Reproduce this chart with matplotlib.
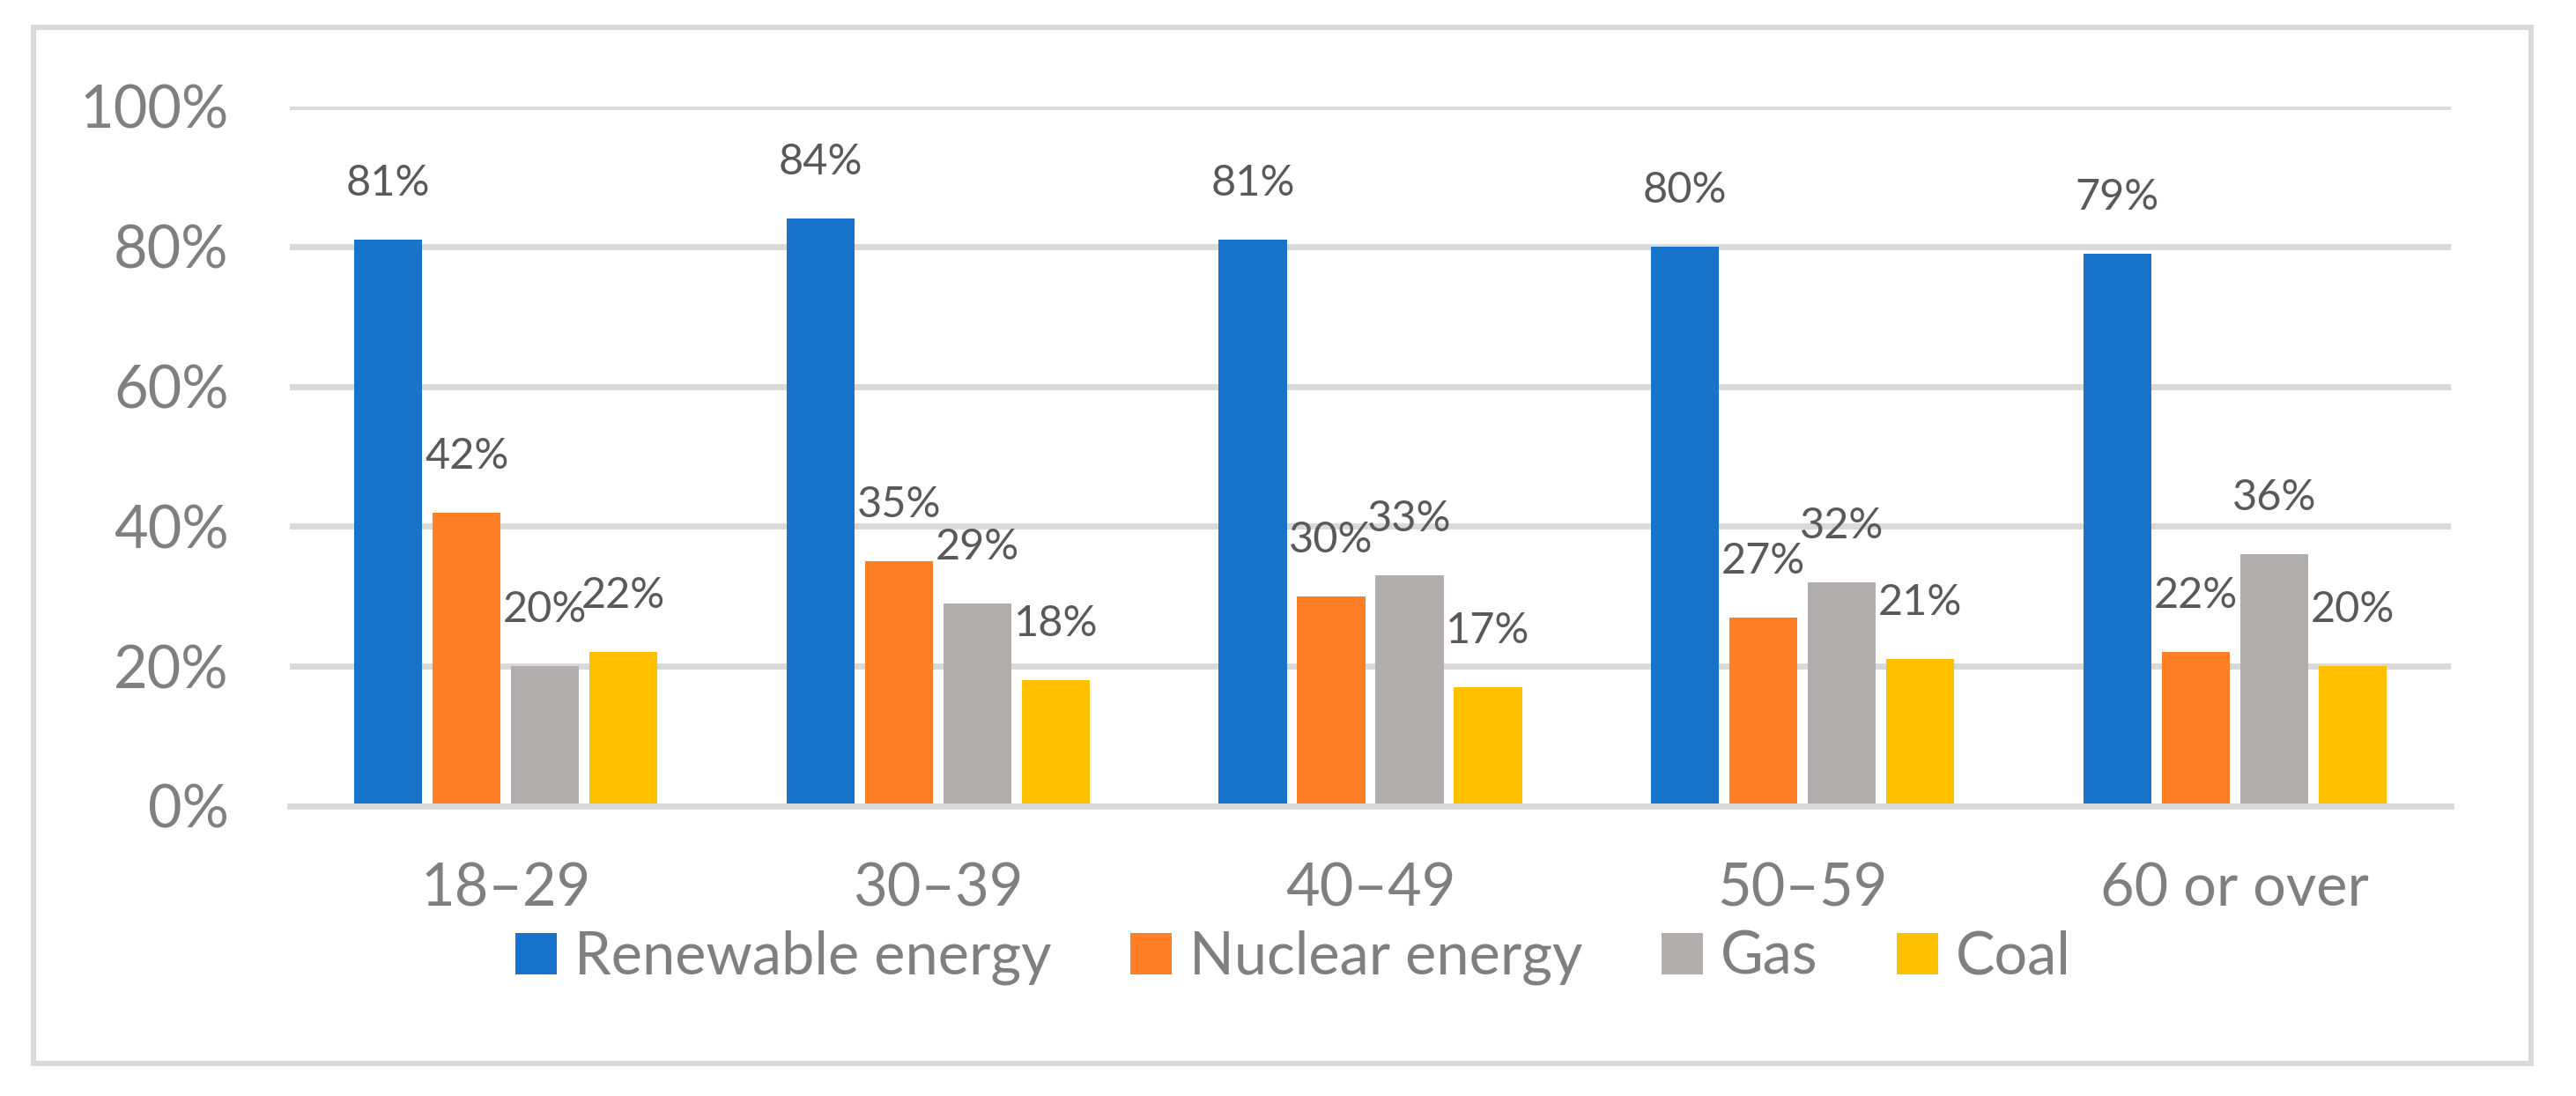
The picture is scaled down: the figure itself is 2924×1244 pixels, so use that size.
import numpy as np
import matplotlib
matplotlib.use('Agg')
import matplotlib.pyplot as plt
from matplotlib.patches import Rectangle
from matplotlib.ticker import PercentFormatter

# --------------------- data ---------------------
age_groups = ['18\u201329', '30\u201339', '40\u201349', '50\u201359', '60 or over']
series_names = ['Renewable energy', 'Nuclear energy', 'Gas', 'Coal']
renewable = [81, 84, 81, 80, 79]
nuclear = [42, 35, 30, 27, 22]
gas = [20, 29, 33, 32, 36]
coal = [22, 18, 17, 21, 20]
colors = ['#1874CB', '#FF7F27', '#B0ADAC', '#FFC000']

plt.rcParams['font.family'] = ['Lato', 'DejaVu Sans']

# --------------------- figure ---------------------
fig = plt.figure(figsize=(29.24, 12.44), dpi=100)
ax = fig.add_axes([329/2924, 329/1244, (2782-329)/2924, (915-121)/1244])

x = np.arange(len(age_groups))
bar_w = 0.157
step = 0.1814
offsets = (np.arange(4) - 1.5) * step

for i, (vals, name) in enumerate(zip([renewable, nuclear, gas, coal], series_names)):
    bars = ax.bar(x + offsets[i], vals, bar_w, color=colors[i], label=name, zorder=2)
    for xi, v in zip(x + offsets[i], vals):
        ax.annotate(f'{v}%', (xi, v), xytext=(0, 36), textcoords='offset points',
                    ha='center', va='baseline', fontsize=35, color='#595959', zorder=3)

# axes styling
ax.set_xlim(-0.5, 4.5)
ax.set_ylim(0, 100)
ax.set_yticks([0, 20, 40, 60, 80, 100])
ax.yaxis.set_major_formatter(PercentFormatter(100, decimals=0))
ax.set_xticks(x)
ax.set_xticklabels(age_groups)
ax.tick_params(axis='y', length=0, pad=50, labelsize=48, labelcolor='#7F7F7F')
ax.tick_params(axis='x', length=0, pad=46, labelsize=48, labelcolor='#7F7F7F')
ax.yaxis.grid(True, color='#D9D9D9', linewidth=5, zorder=0)
ax.set_axisbelow(True)
for s in ['top', 'right', 'left']:
    ax.spines[s].set_visible(False)
ax.spines['bottom'].set_color('#D9D9D9')
ax.spines['bottom'].set_linewidth(5)
ax.spines['bottom'].set_zorder(3)

# legend
leg = fig.legend(loc='center', bbox_to_anchor=(1468/2924, 1 - 1087/1244), ncol=4,
                 frameon=False, fontsize=48, handlelength=0.7, handleheight=0.7,
                 handletextpad=0.3, columnspacing=1.35)
for t in leg.get_texts():
    t.set_color('#7F7F7F')

# chart frame
fig.patches.append(Rectangle((38/2924, 37/1244), (2873-38)/2924, (1207-31)/1244,
                             transform=fig.transFigure, fill=False,
                             edgecolor='#D9D9D9', linewidth=4.3))

fig.savefig('out.png', dpi=100, facecolor='white')
